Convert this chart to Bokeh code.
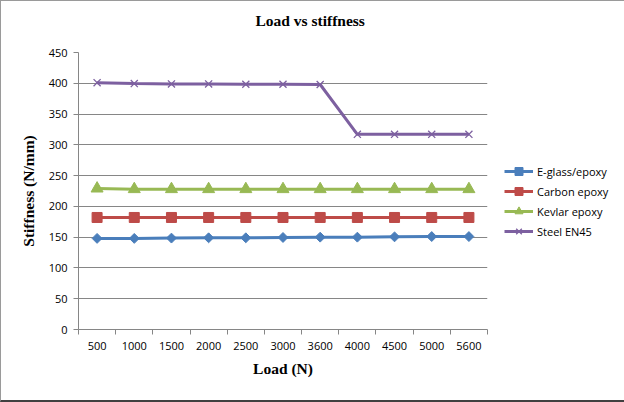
from bokeh.plotting import figure
from bokeh.models import (Range1d, FixedTicker, Legend, LegendItem, Title)
from bokeh.embed import file_html
from bokeh.resources import INLINE
import math

loads = ["500", "1000", "1500", "2000", "2500", "3000", "3600", "4000", "4500", "5000", "5600"]
e_glass = [148, 148, 148.5, 149, 149, 149.5, 150, 150, 150.5, 151, 151]
carbon = [182, 182, 182, 182, 182, 182, 182, 182, 182, 182, 182]
kevlar = [229, 228, 228, 228, 228, 228, 228, 228, 228, 228, 228]
steel = [401, 399.5, 399, 399, 398.5, 398.5, 398, 317, 317, 317, 317]
y_ticks = [0, 50, 100, 150, 200, 250, 300, 350, 400, 450]
title_text = "Load vs stiffness"

n = len(loads)
xs = [i + 0.5 for i in range(n)]

GRAY = "#868686"
p = figure(frame_width=409, frame_height=277, output_backend="svg", toolbar_location=None,
           x_range=Range1d(0, n), y_range=Range1d(0, 450),
           min_border_left=77, min_border_right=135, min_border_top=51, min_border_bottom=71,
           styles={"border-left": "1px solid #9a9a9a", "border-top": "1px solid #9a9a9a",
                   "border-right": "2px solid #404040", "border-bottom": "2px solid #404040"})
p.outline_line_color = None
p.background_fill_color = "white"
p.border_fill_color = "white"

# trailing empty line lifts the title away from the frame
p.title = Title(text=title_text + "\n", align="left", offset=177, standoff=14,
                text_font="Liberation Serif", text_font_size="15.5px",
                text_font_style="bold", text_color="black")

# x axis
xa = p.xaxis[0]
xa.ticker = FixedTicker(ticks=xs, minor_ticks=list(range(n + 1)))
xa.major_label_overrides = {x: l for x, l in zip(xs, loads)}
xa.major_tick_line_color = None
xa.major_tick_out = 5
xa.minor_tick_in = 0
xa.minor_tick_out = 5
xa.minor_tick_line_color = GRAY
xa.axis_line_color = GRAY
xa.major_label_standoff = 7
xa.major_label_text_font = "Open Sans"
xa.major_label_text_font_size = "11px"
xa.major_label_text_color = "black"
xa.axis_label = "Load (N)"
xa.axis_label_text_font = "Liberation Serif"
xa.axis_label_text_font_size = "15.5px"
xa.axis_label_text_font_style = "bold"
xa.axis_label_text_color = "black"
xa.axis_label_standoff = 7

ya = p.yaxis[0]
ya.ticker = FixedTicker(ticks=y_ticks)
ya.minor_tick_line_color = None
ya.major_tick_in = 0
ya.major_tick_out = 5
ya.major_tick_line_color = GRAY
ya.axis_line_color = GRAY
ya.major_label_standoff = 6
ya.major_label_text_font = "Open Sans"
ya.major_label_text_font_size = "11px"
ya.major_label_text_color = "black"
ya.axis_label = "Stiffness (N/mm)"
ya.axis_label_text_font = "Liberation Serif"
ya.axis_label_text_font_size = "15.5px"
ya.axis_label_text_font_style = "bold"
ya.axis_label_text_color = "black"
ya.axis_label_standoff = 9

p.xgrid.grid_line_color = None
p.ygrid.grid_line_color = GRAY
p.ygrid.ticker = FixedTicker(ticks=y_ticks)

series = [
    ("E-glass/epoxy", e_glass, "#4A7EBB", "square", 7, math.pi / 4),
    ("Carbon epoxy", carbon, "#BE4B48", "square", 10, 0),
    ("Kevlar epoxy", kevlar, "#98B954", "triangle", 12, 0),
    ("Steel EN45", steel, "#7D60A0", "x", 10, 0),
]
items = []
for name, vals, col, mk, sz, ang in series:
    ln = p.line(xs, vals, line_color=col, line_width=3)
    if mk == "x":
        sc = p.scatter(xs, vals, marker=mk, size=sz, line_color=col, line_width=1.3)
    else:
        sc = p.scatter(xs, vals, marker=mk, size=sz, angle=ang, fill_color=col, line_color=col)
    items.append(LegendItem(label=name, renderers=[ln, sc]))

legend = Legend(items=items, location=(17, 88), padding=0, margin=0, spacing=0,
                glyph_width=29, glyph_height=20, label_height=20, label_standoff=4,
                border_line_color=None, background_fill_alpha=0,
                label_text_font="Open Sans", label_text_font_size="11px", label_text_color="black")
p.add_layout(legend, "right")

open("out.html", "w").write(file_html(p, INLINE))
